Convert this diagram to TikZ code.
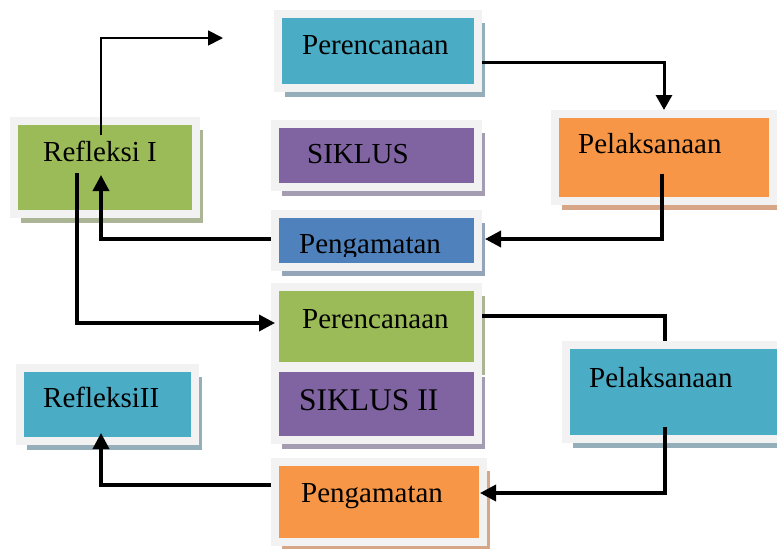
\documentclass[tikz,border=0pt]{standalone}
\usepackage{fontspec}
\setmainfont{Liberation Serif}
\usetikzlibrary{shadows}
\usetikzlibrary{calc}
\usetikzlibrary{arrows.meta}

\definecolor{bingkai}{RGB}{242,242,242}
\definecolor{biru}{RGB}{75,172,198}
\definecolor{hijau}{RGB}{155,187,89}
\definecolor{ungu}{RGB}{128,100,162}
\definecolor{birutua}{RGB}{79,129,189}
\definecolor{jingga}{RGB}{247,150,70}
\definecolor{bbiru}{RGB}{148,174,186}
\definecolor{bhijau}{RGB}{172,180,150}
\definecolor{bungu}{RGB}{164,157,178}
\definecolor{bbirutua}{RGB}{148,165,186}
\definecolor{bjingga}{RGB}{214,166,134}

\begin{document}
\begin{tikzpicture}[x=1pt,y=1pt,yscale=-1,xscale=1,
    kotak/.style={rectangle, fill=#1, draw=bingkai, line width=8pt, inner sep=0pt},
    bayang/.style={drop shadow={shadow xshift=6.5pt, shadow yshift=-8.5pt, fill=#1, opacity=1}},
    teks/.style={anchor=base west, inner sep=0pt, font=\fontsize{29}{33}\selectfont},
    panah/.style={line width=3.5pt, -{Triangle[length=16pt,width=16pt]}}]
    \path[use as bounding box, clip] (0,0) rectangle (777,549);

    %Shape: Rectangle [id:per1]
    \node[kotak=biru, bayang=bbiru, minimum width=200pt, minimum height=74pt] (per1) at (378,51) {};
    %Shape: Rectangle [id:ref1]
    \node[kotak=hijau, bayang=bhijau, minimum width=182pt, minimum height=93pt] (ref1) at (105,167.5) {};
    %Shape: Rectangle [id:sik1]
    \node[kotak=ungu, bayang=bungu, minimum width=203pt, minimum height=63pt] (sik1) at (376.5,155.5) {};
    %Shape: Rectangle [id:pen1]
    \node[kotak=birutua, bayang=bbirutua, minimum width=203pt, minimum height=53pt] (pen1) at (376.5,240.5) {};
    %Shape: Rectangle [id:pel1]
    \node[kotak=jingga, bayang=bjingga, minimum width=218pt, minimum height=87pt] (pel1) at (664,157.5) {};
    %Shape: Rectangle [id:per2]
    \node[kotak=hijau, bayang=bhijau, minimum width=203pt, minimum height=79pt] (per2) at (376.5,326.5) {};
    %Shape: Rectangle [id:sik2]
    \node[kotak=ungu, bayang=bungu, minimum width=203pt, minimum height=72pt] (sik2) at (376.5,404) {};
    %Shape: Rectangle [id:ref2]
    \node[kotak=biru, bayang=bbiru, minimum width=175pt, minimum height=73pt] (ref2) at (107.5,404.5) {};
    %Shape: Rectangle [id:pen2]
    \node[kotak=jingga, bayang=bjingga, minimum width=208pt, minimum height=80pt] (pen2) at (379,502) {};
    %Shape: Rectangle [id:pel2]
    \node[kotak=biru, bayang=bbiru, minimum width=220pt, minimum height=94pt] (pel2) at (676,392) {};

    %Text
    \node[teks] (per1-t) at (302,54) {Perencanaan};
    \node[teks] (ref1-t) at (43,161) {Refleksi I};
    \node[teks] (sik1-t) at (307,163) {SIKLUS};
    \begin{scope}
    \clip (271,200) rectangle (490,256);
    \node[teks] (pen1-t) at (299,253) {Pengamatan};
    \end{scope}
    \node[teks] (pel1-t) at (578,153) {Pelaksanaan};
    \node[teks] (per2-t) at (302,328) {Perencanaan};
    \node[teks, font=\fontsize{31.5}{35}\selectfont] (sik2-t) at (299,410) {SIKLUS II};
    \node[teks] (ref2-t) at (43,407) {RefleksiII};
    \node[teks] (pen2-t) at (301,502) {Pengamatan};
    \node[teks] (pel2-t) at (589,387) {Pelaksanaan};

    %Straight Lines [id:ujung]
    \coordinate (ujung) at (223,38);
    \draw [line width=1.8pt, -{Triangle[length=15pt,width=15pt]}] ($(ref1.north)+(-4,18)$) |- (ujung);
    %Straight Lines [id:per1-pel1]
    \draw [line width=3pt, -{Triangle[length=15pt,width=16pt]}] ($(per1.east)+(0,11)$) -| (pel1.north);
    %Straight Lines [id:pel1-pen1]
    \draw [panah] ($(pel1.center)+(-2,16)$) |- ($(pen1.east)+(3,-1.5)$);
    %Straight Lines [id:pen1-ref1]
    \draw [panah] ($(pen1.west)+(0,-1.5)$) -| ($(ref1.center)+(-4,7.5)$);
    %Straight Lines [id:ref1-per2]
    \draw [panah] ($(ref1.center)+(-28,5.5)$) |- ($(per2.west)+(4,-3.5)$);
    %Straight Lines [id:per2-pel2]
    \draw [line width=3.5pt] ($(per2.east)+(0,-10.5)$) -| ($(pel2.north west)+(103,0)$);
    %Straight Lines [id:pel2-pen2]
    \draw [panah] ($(pel2.north west)+(103,86)$) |- ($(pen2.east)+(-7,-9)$);
    %Straight Lines [id:pen2-ref2]
    \draw [panah] ($(pen2.west)+(0,-17)$) -| ($(ref2.center)+(-6.5,28.5)$);
\end{tikzpicture}
\end{document}
